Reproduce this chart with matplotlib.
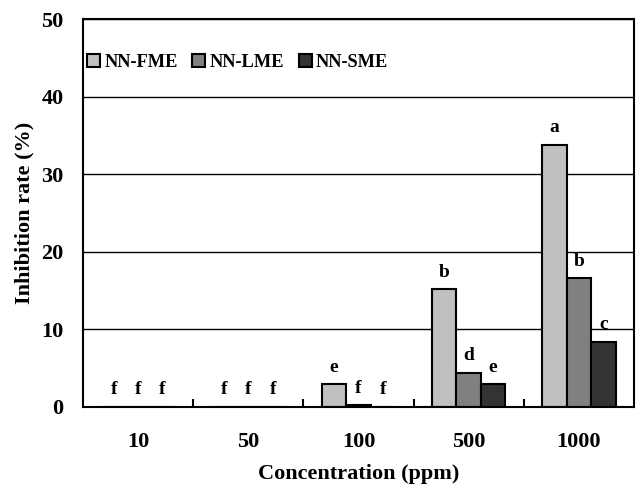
import matplotlib
matplotlib.use("Agg")
import matplotlib.pyplot as plt
import numpy as np

categories = ["10", "50", "100", "500", "1000"]
series_names = ["NN-FME", "NN-LME", "NN-SME"]
fme = [0.0, 0.0, 2.9, 15.2, 33.8]
lme = [0.0, 0.0, 0.2, 4.4, 16.6]
sme = [0.0, 0.0, 0.0, 2.9, 8.4]
fme_letters = ["f", "f", "e", "b", "a"]
lme_letters = ["f", "f", "f", "d", "b"]
sme_letters = ["f", "f", "f", "e", "c"]
colors = ["#c0c0c0", "#808080", "#333333"]

plt.rcParams['font.family'] = ['Liberation Serif', 'DejaVu Serif']
plt.rcParams['font.weight'] = 'bold'

fig = plt.figure(figsize=(6.38, 4.90), dpi=100)
ax = fig.add_axes([83/638, 1-407/490, (634-83)/638, (407-19)/490])

x = np.arange(len(categories))
w = 0.222
series = [fme, lme, sme]
letters = [fme_letters, lme_letters, sme_letters]
for i, (vals, labs) in enumerate(zip(series, letters)):
    xs = x + (i - 1) * w
    ax.bar(xs, vals, width=w, color=colors[i], edgecolor="black", linewidth=1.5,
           label=series_names[i], zorder=3)
    for xi, v, l in zip(xs, vals, labs):
        ax.text(xi, v + 1.1, l, ha="center", va="bottom", fontsize=14,
                fontweight="bold", zorder=4)

ax.set_xlim(-0.5, len(categories) - 0.5)
ax.set_ylim(0, 50)
ax.set_yticks([0, 10, 20, 30, 40, 50])
ax.yaxis.grid(True, color="black", linewidth=1.0, zorder=0)
ax.set_axisbelow(True)
ax.set_xticks(x)
ax.set_xticklabels(categories)
ax.set_xticks(np.arange(0.5, len(categories) - 1, 1.0), minor=True)
ax.tick_params(axis="x", which="major", length=0, pad=18, labelsize=16)
ax.tick_params(axis="x", which="minor", direction="in", length=6, width=1.5)
ax.tick_params(axis="y", which="major", length=0, pad=14, labelsize=16)
for lab in ax.get_xticklabels() + ax.get_yticklabels():
    lab.set_fontweight("bold")
for sp in ax.spines.values():
    sp.set_linewidth(1.5)
    sp.set_zorder(5)

ax.set_xlabel("Concentration (ppm)", fontsize=16, fontweight="bold", labelpad=9)
ax.set_ylabel("Inhibition rate (%)", fontsize=16, fontweight="bold", labelpad=5)

leg = ax.legend(loc="center left", bbox_to_anchor=(4/551, 0.887), ncol=3, frameon=False,
                fontsize=13.2, handlelength=0.72, handleheight=0.72, handletextpad=0.22,
                columnspacing=0.8, borderpad=0, borderaxespad=0)
for t in leg.get_texts():
    t.set_fontweight("bold")

fig.savefig("out.png", dpi=100)
